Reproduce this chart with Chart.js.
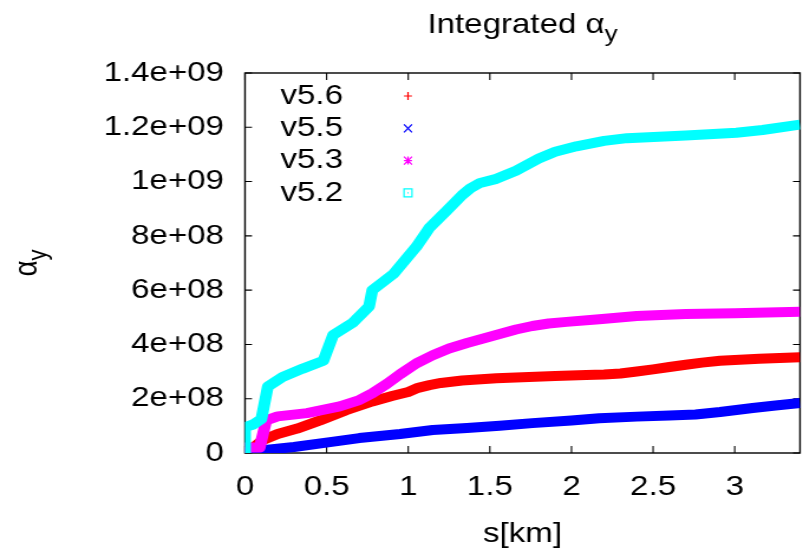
<!DOCTYPE html>
<html>
<head>
<meta charset="utf-8">
<script src="https://cdn.jsdelivr.net/npm/chart.js@4.4.0/dist/chart.umd.min.js"></script>
<style>
  html, body { margin: 0; padding: 0; background: #fff; overflow: hidden; }
  #wrap { width: 803px; height: 553px; overflow: hidden; }
  /* the plot is laid out on a narrower canvas and widened, like the stretched gnuplot output */
  #alphaChart { transform-origin: 0 0; }
</style>
</head>
<body>
<div id="wrap"><canvas id="alphaChart" width="680" height="553"></canvas></div>
<script>
// Integrated alpha_y along s, one curve per version
const seriesLabels = ["v5.6", "v5.5", "v5.3", "v5.2"];
const seriesColors = ["#ff0000", "#0000ff", "#ff00ff", "#00ffff"];
const markerKinds = ["plus", "cross", "star", "box"];

const sV56 = [0, 0.03, 0.11, 0.2, 0.32, 0.46, 0.62, 0.78, 0.9, 1.0, 1.06, 1.13, 1.2, 1.33, 1.54, 1.74, 1.9, 2.09, 2.2, 2.3, 2.4, 2.5, 2.6, 2.7, 2.8, 2.91, 3.0, 3.15, 3.4];
const alphaV56 = [0, 0.1e8, 0.48e8, 0.7e8, 0.9e8, 1.2e8, 1.58e8, 1.9e8, 2.1e8, 2.25e8, 2.4e8, 2.5e8, 2.58e8, 2.67e8, 2.75e8, 2.8e8, 2.84e8, 2.87e8, 2.89e8, 2.93e8, 3.0e8, 3.08e8, 3.17e8, 3.25e8, 3.33e8, 3.4e8, 3.43e8, 3.47e8, 3.53e8];

const sV55 = [0, 0.11, 0.3, 0.52, 0.7, 0.95, 1.15, 1.36, 1.56, 1.76, 2.0, 2.17, 2.4, 2.6, 2.76, 2.91, 3.11, 3.25, 3.4];
const alphaV55 = [0, 0.1e8, 0.22e8, 0.4e8, 0.55e8, 0.7e8, 0.85e8, 0.92e8, 1.0e8, 1.1e8, 1.2e8, 1.28e8, 1.34e8, 1.38e8, 1.42e8, 1.51e8, 1.66e8, 1.75e8, 1.84e8];

const sV53 = [0, 0, 0.09, 0.11, 0.13, 0.2, 0.38, 0.58, 0.7, 0.78, 0.87, 0.95, 1.05, 1.15, 1.25, 1.36, 1.56, 1.66, 1.76, 1.86, 1.97, 2.17, 2.4, 2.7, 3.0, 3.4];
const alphaV53 = [0, 0.2e8, 0.2e8, 0.7e8, 1.2e8, 1.35e8, 1.47e8, 1.72e8, 1.95e8, 2.2e8, 2.55e8, 2.9e8, 3.3e8, 3.6e8, 3.85e8, 4.05e8, 4.38e8, 4.55e8, 4.68e8, 4.77e8, 4.83e8, 4.93e8, 5.05e8, 5.12e8, 5.15e8, 5.2e8];

const sV52 = [0, 0, 0.05, 0.1, 0.14, 0.23, 0.35, 0.48, 0.54, 0.66, 0.76, 0.78, 0.91, 1.05, 1.13, 1.24, 1.33, 1.38, 1.44, 1.54, 1.66, 1.8, 1.9, 2.03, 2.2, 2.34, 2.7, 3.01, 3.17, 3.4];
const alphaV52 = [0, 0.95e8, 1.05e8, 1.25e8, 2.45e8, 2.8e8, 3.1e8, 3.4e8, 4.35e8, 4.8e8, 5.4e8, 6.0e8, 6.6e8, 7.6e8, 8.3e8, 8.95e8, 9.5e8, 9.75e8, 9.95e8, 1.01e9, 1.04e9, 1.085e9, 1.11e9, 1.13e9, 1.15e9, 1.16e9, 1.17e9, 1.18e9, 1.19e9, 1.21e9];

const xTickLabels = ["0", "0.5", "1", "1.5", "2", "2.5", "3"];
const yTickLabels = ["0", "2e+08", "4e+08", "6e+08", "8e+08", "1e+09", "1.2e+09", "1.4e+09"];

const FONT = "'Liberation Sans', Arial, sans-serif";
const FONT_SIZE = 28;
const PAGE_W = 803;
const CANVAS_W = 680;
const K = PAGE_W / CANVAS_W; // horizontal widening factor

document.getElementById("alphaChart").style.transform = "scaleX(" + K + ")";

function toPoints(s, a) {
  return s.map(function (x, i) {
    return { x: x, y: a[i] };
  });
}

const seriesS = [sV56, sV55, sV53, sV52];
const seriesAlpha = [alphaV56, alphaV55, alphaV53, alphaV52];

const datasets = seriesLabels.map(function (label, i) {
  return {
    label: label,
    data: toPoints(seriesS[i], seriesAlpha[i]),
    borderColor: seriesColors[i],
    backgroundColor: seriesColors[i],
    borderWidth: 10,
    borderJoinStyle: "round",
    borderCapStyle: "butt",
    pointRadius: 0,
    fill: false,
    tension: 0,
    // later versions are drawn on top, as gnuplot does
    order: seriesLabels.length - 1 - i,
  };
});

// little point symbols for the key (kept square after the widening)
function drawMarker(ctx, kind, x, y, color) {
  const ry = 4;
  const rx = ry / K;
  ctx.save();
  ctx.strokeStyle = color;
  ctx.lineWidth = 1.2;
  ctx.beginPath();
  if (kind === "plus" || kind === "star") {
    ctx.moveTo(x - rx, y); ctx.lineTo(x + rx, y);
    ctx.moveTo(x, y - ry); ctx.lineTo(x, y + ry);
  }
  if (kind === "cross" || kind === "star") {
    ctx.moveTo(x - rx, y - ry); ctx.lineTo(x + rx, y + ry);
    ctx.moveTo(x - rx, y + ry); ctx.lineTo(x + rx, y - ry);
  }
  if (kind === "box") {
    ctx.rect(x - rx, y - ry, 2 * rx, 2 * ry);
    ctx.moveTo(x - 0.5, y); ctx.lineTo(x + 0.5, y);
  }
  ctx.stroke();
  ctx.restore();
}

// text with a lowered, smaller "y" subscript
function drawAlphaY(ctx, prefix, x, y) {
  const mainFont = FONT_SIZE + "px " + FONT;
  const subFont = Math.round(FONT_SIZE * 0.8) + "px " + FONT;
  ctx.font = mainFont;
  const mainText = prefix + "\u03b1";
  const wMain = ctx.measureText(mainText).width;
  ctx.font = subFont;
  const wSub = ctx.measureText("y").width;
  const start = x - (wMain + wSub) / 2;
  ctx.textAlign = "left";
  ctx.textBaseline = "alphabetic";
  ctx.font = mainFont;
  ctx.fillText(mainText, start, y);
  ctx.font = subFont;
  ctx.fillText("y", start + wMain, y + 8);
}

const gnuplotLook = {
  id: "gnuplotLook",
  beforeDatasetsDraw: function (chart) {
    const ctx = chart.ctx;
    const a = chart.chartArea;
    const xs = chart.scales.x;
    const ys = chart.scales.y;
    const tickV = 7;
    const tickH = 7 / K;
    ctx.save();
    ctx.strokeStyle = "#000";
    ctx.lineWidth = 1.4;
    ctx.strokeRect(a.left, a.top, a.right - a.left, a.bottom - a.top);
    ctx.lineWidth = 1.1;
    ctx.beginPath();
    xs.ticks.forEach(function (t) {
      const px = xs.getPixelForValue(t.value);
      ctx.moveTo(px, a.bottom); ctx.lineTo(px, a.bottom - tickV);
      ctx.moveTo(px, a.top); ctx.lineTo(px, a.top + tickV);
    });
    ys.ticks.forEach(function (t) {
      const py = ys.getPixelForValue(t.value);
      ctx.moveTo(a.left, py); ctx.lineTo(a.left + tickH, py);
      ctx.moveTo(a.right, py); ctx.lineTo(a.right - tickH, py);
    });
    ctx.stroke();
    ctx.restore();
  },
  afterDraw: function (chart) {
    const ctx = chart.ctx;
    const a = chart.chartArea;
    const midX = (a.left + a.right) / 2;
    const midY = (a.top + a.bottom) / 2;
    ctx.save();
    ctx.fillStyle = "#000";

    // title
    drawAlphaY(ctx, "Integrated ", midX, 33);

    // x axis title
    ctx.font = FONT_SIZE + "px " + FONT;
    ctx.textAlign = "center";
    ctx.textBaseline = "middle";
    ctx.fillText("s[km]", midX, 534);

    // y axis title, rotated
    ctx.save();
    ctx.translate(37 / K, midY);
    ctx.rotate(-Math.PI / 2);
    drawAlphaY(ctx, "", 0, 0);
    ctx.restore();

    // key
    ctx.font = FONT_SIZE + "px " + FONT;
    ctx.textAlign = "right";
    ctx.textBaseline = "middle";
    chart.data.datasets.forEach(function (ds, i) {
      const rowY = a.top + 23 + i * 32.3;
      ctx.fillStyle = "#000";
      ctx.fillText(ds.label, 343 / K, rowY);
      drawMarker(ctx, markerKinds[i], 408 / K, rowY, ds.borderColor);
    });
    ctx.restore();
  },
};

new Chart(document.getElementById("alphaChart"), {
  type: "line",
  data: { datasets: datasets },
  options: {
    responsive: false,
    animation: false,
    devicePixelRatio: 1,
    layout: { padding: { top: 73, right: 3 / K, left: 0, bottom: 0 } },
    plugins: {
      legend: { display: false },
      tooltip: { enabled: false },
      title: { display: false },
    },
    scales: {
      x: {
        type: "linear",
        min: 0,
        max: 3.4,
        grid: { display: false, drawTicks: false },
        border: { display: false },
        ticks: {
          stepSize: 0.5,
          includeBounds: false,
          maxRotation: 0,
          autoSkip: false,
          padding: 17,
          color: "#000",
          font: { family: FONT, size: FONT_SIZE, lineHeight: 1.2 },
          callback: function (v, i) { return xTickLabels[i]; },
        },
        afterFit: function (s) { s.height = 100; },
      },
      y: {
        type: "linear",
        min: 0,
        max: 1.4e9,
        grid: { display: false, drawTicks: false },
        border: { display: false },
        ticks: {
          stepSize: 2e8,
          autoSkip: false,
          padding: 21 / K,
          color: "#000",
          font: { family: FONT, size: FONT_SIZE, lineHeight: 1.2 },
          callback: function (v, i) { return yTickLabels[i]; },
        },
        afterFit: function (s) { s.width = 245 / K; },
      },
    },
  },
  plugins: [gnuplotLook],
});
</script>
</body>
</html>
